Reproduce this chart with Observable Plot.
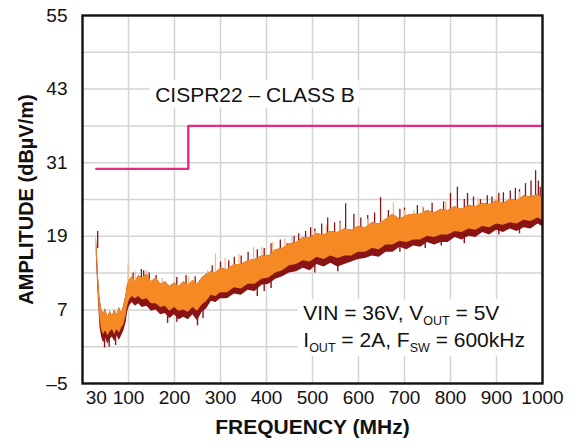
<!DOCTYPE html>
<html>
<head>
<meta charset="utf-8">
<script src="https://cdn.jsdelivr.net/npm/d3@7"></script>
<script src="https://cdn.jsdelivr.net/npm/@observablehq/plot@0.6"></script>
<style>
  html, body { margin: 0; padding: 0; background: #fff; }
  #chart { width: 585px; height: 448px; }
</style>
</head>
<body>
<div id="chart"></div>
<script>
// ---------- data ----------
const xTicks = [30, 100, 200, 300, 400, 500, 600, 700, 800, 900, 1000];
const xGrid = [100, 200, 300, 400, 500, 600, 700, 800, 900];
const yTicks = [-5, 7, 19, 31, 43, 55];
const yGrid = [1, 13, 25, 37, 49, 7, 19, 31, 43];

const limitFreq = [30, 230, 1000];
const limitLevel = [30, 37, 37];
const limitLabel = "CISPR22 – CLASS B";

const freq = [30,32,35,38,42,46,50,55,60,65,70,75,80,85,90,95,98,102,108,115,122,130,140,150,160,170,180,190,200,210,220,230,240,250,260,270,280,290,300,
  315,330,345,360,375,390,405,420,435,450,465,480,495,510,525,540,555,570,585,600,615,630,645,660,675,690,705,720,735,750,765,780,795,810,825,840,855,870,885,900,915,930,945,960,975,990,1000];

// orange band (upper / lower edge)
const qpHi = [19.0,16.5,12.0,8.8,7.0,6.4,7.2,5.8,6.8,6.0,7.0,6.2,7.4,6.4,7.8,9.6,11.2,11.8,12.4,11.6,12.6,12.2,12.8,11.6,12.2,11.2,11.6,10.8,11.4,10.8,11.6,11.0,11.8,11.2,12.2,12.8,13.2,13.0,13.8,
  13.6,14.4,14.4,15.0,15.2,15.8,15.8,16.8,17.0,17.8,18.0,18.8,18.8,19.4,19.2,19.8,19.6,20.2,20.0,20.6,20.4,21.2,21.0,21.8,22.6,21.8,22.4,22.6,22.6,23.2,22.8,23.4,23.2,23.8,23.4,24.0,23.8,24.4,24.2,24.8,24.4,25.0,24.8,25.6,25.4,25.8,25.2];
const qpLo = [16.5,13.5,9.0,5.5,3.6,3.0,3.6,2.8,3.4,3.8,3.0,3.8,3.2,4.0,4.6,6.2,7.6,8.6,9.2,8.8,9.2,8.6,8.8,8.0,8.0,7.4,7.6,6.8,7.4,6.8,7.0,6.6,7.4,6.8,7.8,8.4,9.4,9.2,9.8,
  9.8,10.6,10.4,11.2,11.2,12.0,12.2,13.0,13.4,14.2,14.4,15.0,14.8,15.6,15.2,15.8,15.4,15.8,15.8,16.4,16.4,17.0,16.8,17.6,17.6,18.2,18.0,18.4,18.4,19.0,18.8,19.2,19.2,19.8,19.6,20.2,20.0,20.6,20.4,21.0,20.8,21.2,21.0,21.6,21.4,22.0,21.6];
// dark red lower edge
const pkLo = [16.0,12.6,8.0,4.2,2.4,1.6,2.4,1.4,2.2,2.6,1.8,2.8,2.0,2.8,3.6,5.0,6.6,7.6,8.2,7.6,8.0,7.4,7.6,6.8,7.0,6.2,6.4,5.6,6.2,5.4,5.8,5.4,6.2,5.2,6.6,7.2,8.4,8.2,8.8,
  8.8,9.6,9.4,10.2,10.0,11.0,11.2,12.0,12.4,13.0,13.2,13.8,13.4,14.4,14.0,14.6,14.0,14.4,14.8,15.2,15.4,15.8,15.6,16.4,16.4,17.2,16.8,17.4,17.2,18.0,17.6,18.0,18.0,18.8,18.4,19.0,18.8,19.6,19.2,20.0,19.6,20.2,19.8,20.4,20.2,21.0,20.6];

// dark red peaks rising above the band
const pkSpikeFreq = [33,110,128,133,145,160,205,225,245,282,300,318,330,345,360,380,395,410,430,445,460,470,485,496,505,520,533,548,560,572,590,605,620,635,648,665,690,700,728,741,760,785,800,815,830,837,850,865,880,890,905,915,930,941,950,963,975,985,991,995];
const pkSpikeTop = [19.8,13.0,13.6,13.4,13.0,12.6,12.3,12.6,12.4,14.2,14.8,15.0,15.6,15.8,16.4,16.8,17.0,17.8,18.4,17.8,19.0,19.4,19.8,20.4,20.2,21.0,22.0,21.2,21.4,24.3,22.6,22.0,22.4,22.8,25.3,23.2,23.4,23.6,24.0,23.6,24.4,24.6,26.0,27.0,25.0,26.0,25.4,25.0,25.6,25.4,26.0,26.1,26.4,26.8,26.6,27.6,28.0,29.7,28.0,27.0];
const pkSpikeBase = [17,10,10.5,10.5,10,10,9,9,9,11,11.8,12,12.5,12.8,13,13.5,14,14.5,15,15.5,16,16.5,16.8,17,17,17.2,17.5,17.5,17.8,18,18.2,18.5,18.6,18.8,19,19.5,20,20,20.5,20.8,21,21.2,21.5,21.6,21.8,22,22,22.2,22.5,22.6,23,23,23,23,23.2,23.2,23.4,23.4,23.5,23.5];

// pale orange peaks
const qpSpikeFreq = [99,115,140,173,230,272,289,310,340,372,390,413,440,455,505,530,560,620,650,676,700,720,740,790,860,900,950];
const qpSpikeTop = [14.5,13.2,13.4,12.1,12.4,13.4,16.1,15.4,16.0,17.2,17.2,18.0,18.6,18.8,19.8,20.8,21.2,21.8,22.8,24.5,23.2,23.2,23.8,24.6,25.2,25.6,26.2];
const qpSpikeBase = [9,10,10,9.5,9,10.5,11,12,12.6,13.2,13.8,14.5,15.4,15.8,17,17.4,17.8,18.6,19,19.6,20,20.4,20.8,21.4,22.2,23,23.2];

// dark red dips below the band
const dipFreq = [48,58,72,185,205,250,262,380,395,410,505,555,690,745,780,830,905,950];
const dipLow = [0.8,0.9,1.2,4.8,5.0,4.4,5.6,9.2,10.0,10.5,13.0,13.2,16.4,17.0,17.4,17.8,19.2,19.4];
const dipBase = [4,4,4,8,8,8,9,12.5,13,13.5,16,16.5,19,20,20.5,21,22.5,22.5];

const noteX = [480, 480];
const noteY = [6.5, 2.0];
const noteText = ["VIN = 36V, V_OUT = 5V", "I_OUT = 2A, F_SW = 600kHz"];
const labelX = [158];
const labelY = [42];

// ---------- build tables ----------
const band = freq.map((f, i) => ({f, qpHi: qpHi[i], qpLo: qpLo[i], pkLo: pkLo[i]}));
const pkSpikes = pkSpikeFreq.map((f, i) => ({f, a: pkSpikeBase[i], b: pkSpikeTop[i]}));
const qpSpikes = qpSpikeFreq.map((f, i) => ({f, a: qpSpikeBase[i], b: qpSpikeTop[i]}));
const dips = dipFreq.map((f, i) => ({f, a: dipBase[i], b: dipLow[i]}));
const limit = limitFreq.map((f, i) => ({f, v: limitLevel[i]}));
const notes = noteText.map((t, i) => ({x: noteX[i], y: noteY[i], t}));

const ORANGE = "#f58a24";
const DARK = "#8a1414";
const PALE = "#f6b987";
const PINK = "#e92a7f";
const GRID = "#d3d3d3";

const chart = Plot.plot({
  width: 585,
  height: 448,
  marginLeft: 82,
  marginRight: 43,
  marginTop: 15,
  marginBottom: 65,
  style: {fontFamily: "'Liberation Sans', Arial, sans-serif", background: "#fff", color: "#111"},
  x: {domain: [0, 1000]},
  y: {domain: [-5, 55]},
  marks: [
    Plot.ruleX(xGrid, {stroke: GRID, strokeWidth: 1.5}),
    Plot.ruleY(yGrid, {stroke: GRID, strokeWidth: 1.5}),
    Plot.areaY(band, {x: "f", y1: "pkLo", y2: "qpHi", fill: DARK}),
    Plot.ruleX(dips, {x: "f", y1: "a", y2: "b", stroke: DARK, strokeWidth: 1.4}),
    Plot.ruleX(pkSpikes, {x: "f", y1: "a", y2: "b", stroke: DARK, strokeWidth: 1.3}),
    Plot.ruleX(qpSpikes, {x: "f", y1: "a", y2: "b", stroke: PALE, strokeWidth: 1.3}),
    Plot.areaY(band, {x: "f", y1: "qpLo", y2: "qpHi", fill: ORANGE}),
    Plot.line(limit, {x: "f", y: "v", curve: "step-after", stroke: PINK, strokeWidth: 2.4}),
    Plot.text([limitLabel], {x: labelX, y: labelY, text: d => d, textAnchor: "start", fontSize: 21, fill: "#111"}),
    Plot.text(notes, {x: "x", y: "y", text: "t", textAnchor: "start", fontSize: 21, fill: "#111"}),
    Plot.frame({stroke: "#111", strokeWidth: 2.4}),
    Plot.axisX(xTicks, {tickSize: 0, tickPadding: 7, fontSize: 19, label: null, tickFormat: d => String(d)}),
    Plot.axisY(yTicks, {tickSize: 0, tickPadding: 15, fontSize: 19, label: null,
      tickFormat: d => d < 0 ? "\u2013" + Math.abs(d) : String(d)}),
    Plot.text(["FREQUENCY (MHz)"], {frameAnchor: "bottom", dy: 50, fontSize: 21, fontWeight: "bold", fill: "#111"}),
    Plot.text(["AMPLITUDE (dBµV/m)"], {frameAnchor: "left", dx: -56, rotate: -90, textAnchor: "middle", fontSize: 20, fontWeight: "bold", fill: "#111"})
  ]
});

document.getElementById("chart").append(chart);

const svg = d3.select(chart);

// white boxes behind the in-plot labels
function boxBehind(g, padX, padY, rightEdge) {
  if (!g) return;
  const b = g.getBBox();
  const x0 = b.x - padX;
  d3.select(g.parentNode).insert("rect", () => g)
    .attr("x", x0).attr("y", b.y - padY)
    .attr("width", rightEdge ? rightEdge - x0 : b.width + 2 * padX)
    .attr("height", b.height + 2 * padY)
    .attr("fill", "#fff");
}

let noteGroup = null, labelGroup = null;
svg.selectAll("text").each(function () {
  const t = this.textContent;
  if (t === limitLabel) labelGroup = this.parentNode;
  if (noteText.includes(t)) {
    noteGroup = this.parentNode;
    const el = d3.select(this);
    el.text(null);
    let shift = 0;
    t.split(/_([A-Z]+)/).forEach((p, i) => {
      if (!p) return;
      const ts = el.append("tspan").text(p);
      if (i % 2 === 1) {
        ts.attr("font-size", 12.5).attr("dy", 5);
        shift = -5;
      } else if (shift) {
        ts.attr("dy", shift);
        shift = 0;
      }
    });
  }
});
boxBehind(labelGroup, 5, 2, 0);
boxBehind(noteGroup, 5, 1, 542);
</script>
</body>
</html>
